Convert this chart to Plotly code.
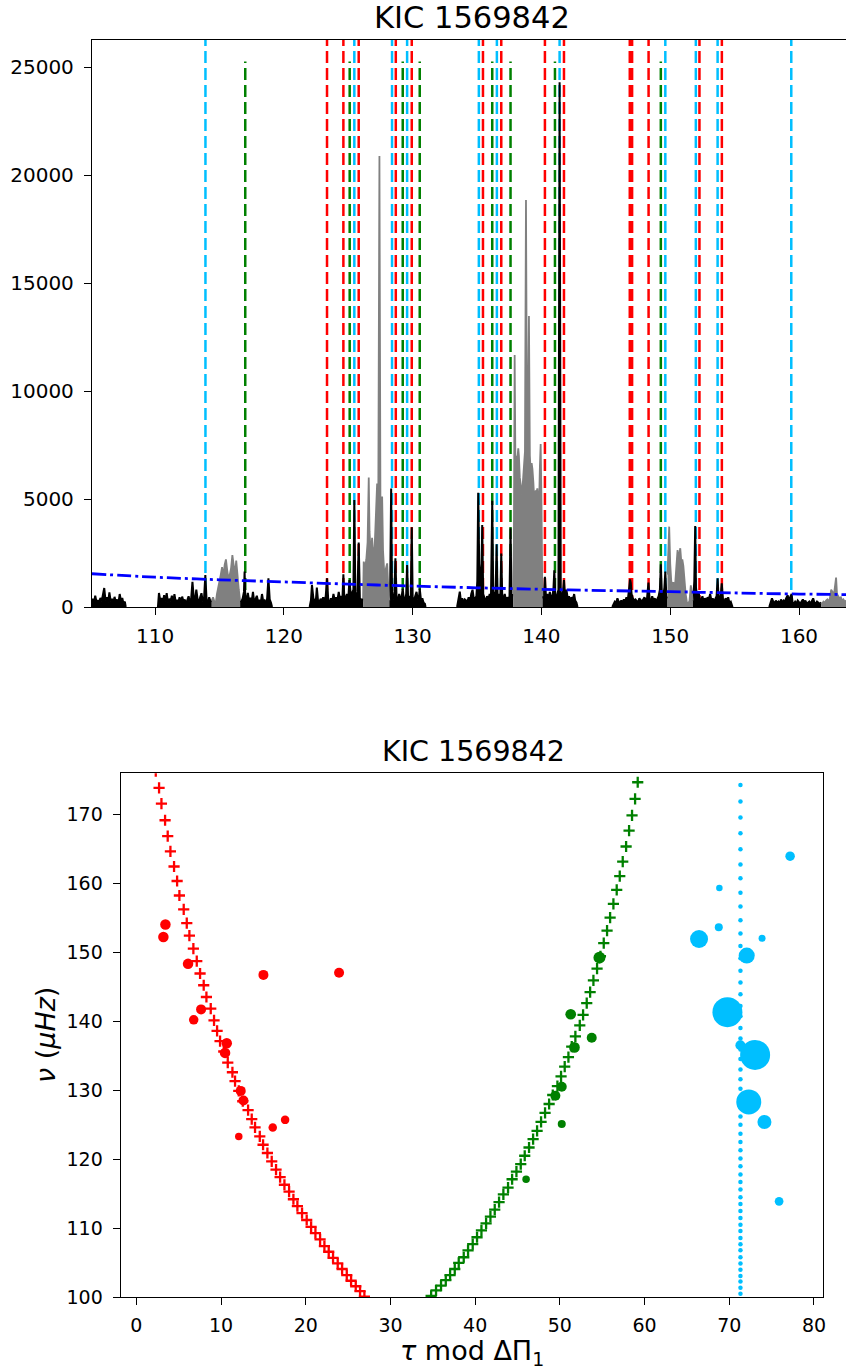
import plotly.graph_objects as go

W, H = 846, 1369

# ------------------------------------------------------------------
# Top panel: power spectrum (frequency in muHz, power)
# segments separated by None
# ------------------------------------------------------------------
black_freq = [
    105.10,105.15,105.25,105.35,105.45,105.55,105.65,105.75,105.85,105.95,106.05,106.15,106.25,106.35,106.45,106.55,106.65,106.75,106.85,106.95,107.05,107.15,107.25,107.35,107.45,107.55,107.65,107.72, None,
    110.22,110.3,110.4,110.5,110.6,110.7,110.8,110.9,111.0,111.1,111.2,111.3,111.4,111.5,111.6,111.7,111.8,111.9,112.0,112.1,112.2,112.3,112.4,112.5,112.6,112.7,112.8,112.9,113.0,113.1,113.2,113.3,113.4,113.5,113.6,113.7,113.8,113.9,114.0,114.1,114.2,114.3,114.4, None,
    116.6,116.7,116.8,116.9,116.95,117.0,117.1,117.2,117.3,117.4,117.5,117.6,117.7,117.8,117.9,118.0,118.1,118.2,118.3,118.4,118.5,118.6,118.7,118.8,118.9,119.0,119.08, None,
    122.0,122.1,122.18,122.3,122.4,122.5,122.56,122.65,122.75,122.85,122.95,123.05,123.15,123.25,123.35,123.45,123.55,123.65,123.75,123.85,123.95,124.05,124.15,124.26,124.35,124.45,124.55,124.62,124.7,124.8,124.9,125.0,125.09,125.2,125.3,125.4,125.47,125.55,125.65,125.72,125.81,125.9,126.0,126.1,126.15, None,
    128.18,128.25,128.33,128.4,128.5,128.58,128.66,128.75,128.85,128.95,129.05,129.15,129.23,129.3,129.4,129.5,129.57,129.65,129.75,129.85,129.93,130.0,130.1,130.2,130.3,130.4,130.5,130.55,130.65,130.75,130.85,130.95,131.0, None,
    133.45,133.55,133.66,133.75,133.85,133.95,134.05,134.15,134.25,134.35,134.45,134.55,134.65,134.75,134.85,134.95,135.02,135.09,135.17,135.25,135.33,135.4,135.48,135.58,135.68,135.78,135.88,135.98,136.08,136.18,136.26,136.34,136.43,136.52,136.6,136.7,136.8,136.88,136.96,137.05,137.15,137.25,137.35,137.45,137.52,137.6,137.68,137.8, None,
    140.07,140.15,140.22,140.27,140.35,140.45,140.55,140.65,140.75,140.85,140.93,141.0,141.08,141.16,141.24,141.32,141.41,141.5,141.58,141.66,141.75,141.84,141.94,142.04,142.14,142.24,142.34,142.44,142.54,142.62,142.72,142.8, None,
    145.5,145.6,145.7,145.8,145.9,146.0,146.1,146.2,146.3,146.4,146.5,146.6,146.7,146.8,146.88,146.94,147.0,147.1,147.2,147.3,147.4,147.5,147.6,147.7,147.8,147.9,148.0,148.1,148.2,148.31,148.4,148.5,148.6,148.7,148.8,148.9,149.0,149.1,149.2,149.27,149.35,149.45,149.55,149.62,149.7,149.79, None,
    151.73,151.8,151.87,151.94,152.0,152.1,152.2,152.3,152.4,152.5,152.6,152.7,152.8,152.9,153.0,153.1,153.2,153.3,153.4,153.5,153.6,153.68,153.76,153.85,153.93,154.0,154.1,154.2,154.3,154.4,154.5,154.6,154.7,154.84, None,
    157.69,157.8,157.9,158.0,158.1,158.2,158.3,158.4,158.5,158.6,158.7,158.8,158.9,159.0,159.12,159.2,159.3,159.43,159.5,159.6,159.7,159.8,159.9,160.0,160.1,160.2,160.3,160.4,160.5,160.6,160.7,160.8,160.9,161.0,161.1,161.2,161.3,161.4,161.5,161.6,161.72,
]
black_power = [
    200,380,150,520,230,320,180,420,260,560,880,300,450,200,680,260,380,190,470,230,350,170,600,280,420,150,250,0, None,
    0,650,300,420,180,550,250,640,200,380,260,520,170,600,240,330,200,450,160,480,260,350,140,300,500,250,380,1170,450,280,800,350,220,450,640,260,380,1480,300,200,450,250,300, None,
    300,250,400,700,1640,500,300,650,280,420,250,700,200,380,520,230,330,180,600,250,300,150,400,1330,350,200,0, None,
    0,300,1020,350,250,420,900,300,200,380,250,450,300,500,1330,280,200,400,250,600,300,450,280,700,350,500,400,1510,300,450,600,350,1250,500,700,800,4950,600,500,700,2980,400,350,250,400, None,
    300,600,5490,500,350,700,2250,400,300,600,350,500,850,400,300,600,1940,350,500,400,3690,450,300,550,700,350,500,850,300,400,200,150,0, None,
    0,300,710,250,400,200,350,300,250,450,200,600,800,350,400,500,1200,5290,2000,1500,900,3800,600,400,300,500,350,600,400,4920,500,700,400,2900,350,600,300,2480,350,400,600,300,450,350,500,3640,400,600, None,
    400,600,800,1400,500,600,350,700,400,500,800,1700,500,400,600,800,24290,700,500,600,1250,450,800,400,500,300,450,350,600,300,200,0, None,
    0,150,250,200,400,250,180,300,200,350,250,450,300,800,1280,1100,600,400,300,350,250,200,400,300,250,350,450,300,400,1130,350,250,500,300,400,250,350,500,800,1980,600,450,900,1640,500,400, None,
    300,500,1200,3750,900,400,700,350,300,500,250,400,300,450,350,600,300,400,250,350,500,1330,400,300,600,1100,350,250,400,300,450,200,250,0, None,
    0,200,400,250,150,300,200,250,150,350,200,300,250,400,550,300,450,600,200,150,250,150,300,200,150,250,350,200,300,150,200,250,150,300,400,200,150,250,200,150,200,
]

grey_freq = [
    114.4,114.5,114.6,114.7,114.8,114.9,115.0,115.1,115.2,115.3,115.4,115.5,115.6,115.7,115.8,115.9,116.0,116.1,116.2,116.3,116.4,116.5,116.6, None,
    126.15,126.2,126.3,126.4,126.5,126.59,126.65,126.75,126.85,126.95,127.05,127.15,127.24,127.32,127.42,127.5,127.57,127.63,127.7,127.8,127.9,128.02,128.1,128.18, None,
    137.8,137.86,137.92,137.98,138.05,138.12,138.2,138.25,138.32,138.4,138.48,138.56,138.64,138.72,138.8,138.87,138.94,139.03,139.1,139.17,139.24,139.3,139.37,139.44,139.5,139.56,139.62,139.68,139.75,139.82,139.88,139.94,140.0,140.07, None,
    149.79,149.85,149.92,150.0,150.08,150.16,150.24,150.32,150.4,150.48,150.57,150.64,150.71,150.78,150.86,150.94,151.02,151.1,151.2,151.3,151.4,151.5,151.6,151.68,151.73, None,
    161.72,161.8,161.9,162.0,162.1,162.2,162.3,162.4,162.5,162.6,162.7,162.8,162.88,162.95,163.05,163.15,163.25,163.35,163.45,163.55,163.65,
]
grey_power = [
    300,450,250,150,600,850,1100,1500,1850,1400,1950,2200,1700,1300,1500,1800,2400,2000,1500,2150,1300,800,300, None,
    400,2100,1800,2200,3000,5990,3500,2400,3200,2300,2800,4000,5720,3000,20880,4500,3800,5110,2600,1500,1800,2020,1000,300, None,
    600,3000,11670,6500,7000,6800,7350,7000,6000,5500,5200,5800,6500,7200,18840,9000,7500,13470,7000,6200,6660,6400,5800,5000,5200,5400,5300,5490,5000,4800,6500,7550,5000,500, None,
    1500,2500,3720,2000,1200,1000,1150,800,1200,1900,2640,2200,2400,2720,2100,2200,1900,1200,600,200,150,300,1000,700,300, None,
    200,150,250,200,300,350,250,400,800,700,500,900,1360,600,500,400,450,300,350,250,300,
]

# background level (dash-dot)
bg_freq = [105.1, 110.0, 115.0, 120.0, 125.0, 130.0, 135.0, 140.0, 145.0, 150.0, 155.0, 160.0, 163.65]
bg_power = [1540, 1380, 1260, 1160, 1060, 970, 890, 820, 760, 710, 650, 600, 575]

# mode frequency markers
red_lines = [123.35, 124.62, 125.81, 128.69, 129.93, 135.46, 136.88, 140.27, 141.75,
             146.86, 147.04, 148.32, 152.27, 154.01]
green_lines = [117.00, 125.11, 129.23, 130.55, 136.18, 137.60, 141.05, 149.27]
blue_lines = [113.91, 125.47, 128.40, 129.57, 135.14, 136.54, 141.41, 149.62, 151.99,
              153.68, 159.40]
line_top_red_blue = 27000
line_top_green = 25250

top_xticks = [110, 120, 130, 140, 150, 160]
top_yticks = [0, 5000, 10000, 15000, 20000, 25000]

# ------------------------------------------------------------------
# Bottom panel: echelle-like diagram (tau mod DeltaPi1, nu)
# ------------------------------------------------------------------
red_model_tau = [2.29,2.68,2.96,3.39,3.70,4.02,4.45,4.81,5.08,5.59,5.95,6.26,6.73,7.13,7.52,7.95,8.27,8.78,
                 9.17,9.53,9.88,10.32,10.79,11.34,11.65,12.09,12.56,13.19,13.62,14.01,14.57,14.96,15.47,15.98,
                 16.49,16.97,17.48,18.03,18.54,19.01,19.56,20.11,20.63,21.14,21.69,22.20,22.71,23.22,23.77,
                 24.29,24.84,25.35,25.90,26.41,26.92]
red_model_nu = [176.2,173.8,171.5,169.1,166.8,164.6,162.4,160.3,158.2,156.2,154.2,152.4,150.5,148.7,146.9,145.2,143.5,141.8,
                140.1,138.6,137.1,135.6,134.0,132.6,131.3,129.9,128.4,127.1,125.8,124.6,123.3,122.1,120.9,119.7,
                118.5,117.4,116.3,115.3,114.2,113.2,112.2,111.2,110.2,109.3,108.4,107.4,106.6,105.7,104.9,
                104.1,103.2,102.4,101.6,100.9,100.1]

green_model_tau = [59.19,58.88,58.52,58.17,57.82,57.42,57.07,56.71,56.32,55.93,55.57,55.18,54.79,54.39,53.96,53.57,
                   53.17,52.74,52.35,51.83,51.40,51.01,50.57,50.14,49.71,49.16,48.73,48.25,47.78,47.31,46.84,46.36,
                   45.85,45.38,44.87,44.36,43.88,43.33,42.82,42.31,41.80,41.29,40.74,40.22,39.71,39.16,38.65,38.06,
                   37.59,37.04,36.53,35.97,35.38,34.80]
green_model_nu = [174.6,172.2,169.8,167.6,165.3,163.1,161.0,159.0,157.0,155.0,153.1,151.3,149.4,147.6,145.9,144.2,
                  142.6,140.9,139.4,137.8,136.3,134.8,133.4,132.0,130.6,129.3,128.0,126.7,125.4,124.1,122.9,121.7,
                  120.5,119.3,118.2,117.1,115.9,114.9,113.8,112.7,111.7,110.7,109.7,108.7,107.7,106.8,105.8,105.0,
                  104.1,103.2,102.5,101.7,101.0,100.2]

blue_model_tau = 71.32
blue_model_nu = [174.2,171.8,169.5,167.2,164.9,162.7,160.7,158.6,156.6,154.6,152.7,150.9,149.1,147.3,145.6,143.9,
                 142.2,140.7,139.0,137.5,135.9,134.5,133.0,131.6,130.2,128.8,127.5,126.2,125.0,123.7,122.5,121.3,
                 120.1,119.0,117.8,116.7,115.6,114.5,113.5,112.5,111.5,110.5,109.6,108.6,107.7,106.8,105.8,104.9,
                 104.0,103.1,102.3,101.4,100.5]

red_obs_tau = [3.43, 3.19, 6.10, 15.00, 23.93, 7.64, 6.77, 10.67, 10.47, 12.32, 12.64, 12.09, 16.10, 17.56]
red_obs_nu = [154.0, 152.2, 148.3, 146.7, 147.0, 141.7, 140.2, 136.8, 135.4, 129.9, 128.5, 123.3, 124.6, 125.7]
red_obs_size = [10.5, 10.5, 10.5, 10, 10, 10, 9.5, 10.5, 10.5, 10, 10, 7.5, 8.5, 8.5]

green_obs_tau = [54.67, 51.28, 53.76, 51.72, 50.22, 49.47, 50.22, 46.01]
green_obs_nu = [149.2, 141.0, 137.6, 136.2, 130.5, 129.2, 125.1, 117.1]
green_obs_size = [12, 10.7, 10, 10.7, 10, 10, 8, 7.5]

blue_obs_tau = [77.18, 68.83, 68.76, 66.43, 73.87, 72.06, 69.78, 71.31, 73.05, 72.30, 74.15, 75.88]
blue_obs_nu = [163.9, 159.3, 153.6, 151.9, 152.0, 149.5, 141.3, 136.5, 135.1, 128.3, 125.4, 113.9]
blue_obs_size = [9.5, 6.5, 8, 18, 7, 16, 30, 10, 30, 25, 14, 8.7]

bot_xticks = [0, 10, 20, 30, 40, 50, 60, 70, 80]
bot_yticks = [100, 110, 120, 130, 140, 150, 160, 170]

title_text = "KIC 1569842"

RED = "#ff0000"
GREEN = "#008000"
SKY = "#00bfff"
FONT = "DejaVu Sans"


def px_x(p):
    return p / W


def px_y(p):
    return 1 - p / H


def split_segments(xs, ys):
    segs, cx, cy = [], [], []
    for x, y in zip(xs, ys):
        if x is None:
            if cx:
                segs.append((cx, cy))
            cx, cy = [], []
        else:
            cx.append(x)
            cy.append(y)
    if cx:
        segs.append((cx, cy))
    return segs


def vline_trace(positions, top, color):
    xs, ys = [], []
    for f in positions:
        xs += [f, f, None]
        ys += [0, top, None]
    return go.Scatter(x=xs, y=ys, mode="lines", xaxis="x", yaxis="y",
                      line=dict(color=color, width=2.5, dash="12px,5px"),
                      hoverinfo="skip", showlegend=False)


fig = go.Figure()

# vertical mode lines (drawn under spectrum)
fig.add_trace(vline_trace(blue_lines, line_top_red_blue, SKY))
fig.add_trace(vline_trace(green_lines, line_top_green, GREEN))
fig.add_trace(vline_trace(red_lines, line_top_red_blue, RED))

for sx, sy in split_segments(black_freq, black_power):
    fig.add_trace(go.Scatter(x=sx, y=sy, mode="lines", xaxis="x", yaxis="y",
                             line=dict(color="black", width=2.0), fill="tozeroy",
                             fillcolor="black", showlegend=False, hoverinfo="skip"))
for sx, sy in split_segments(grey_freq, grey_power):
    fig.add_trace(go.Scatter(x=sx, y=sy, mode="lines", xaxis="x", yaxis="y",
                             line=dict(color="#808080", width=1.8), fill="tozeroy",
                             fillcolor="#808080", showlegend=False, hoverinfo="skip"))

fig.add_trace(go.Scatter(x=bg_freq, y=bg_power, mode="lines", xaxis="x", yaxis="y",
                         line=dict(color="#0000ff", width=2.8, dash="14px,4px,3px,4px", shape="spline"),
                         showlegend=False, hoverinfo="skip"))

# bottom panel
fig.add_trace(go.Scatter(x=red_model_tau, y=red_model_nu, mode="markers", xaxis="x2", yaxis="y2",
                         marker=dict(symbol="cross-thin", size=8, color=RED, opacity=1,
                                     line=dict(color=RED, width=2.3)),
                         showlegend=False))
fig.add_trace(go.Scatter(x=red_obs_tau, y=red_obs_nu, mode="markers", xaxis="x2", yaxis="y2",
                         marker=dict(symbol="circle", size=red_obs_size, color=RED, opacity=1, line=dict(width=0)),
                         showlegend=False))
fig.add_trace(go.Scatter(x=green_model_tau, y=green_model_nu, mode="markers", xaxis="x2", yaxis="y2",
                         marker=dict(symbol="cross-thin", size=8, color=GREEN, opacity=1,
                                     line=dict(color=GREEN, width=2.3)),
                         showlegend=False))
fig.add_trace(go.Scatter(x=green_obs_tau, y=green_obs_nu, mode="markers", xaxis="x2", yaxis="y2",
                         marker=dict(symbol="circle", size=green_obs_size, color=GREEN, opacity=1, line=dict(width=0)),
                         showlegend=False))
fig.add_trace(go.Scatter(x=[blue_model_tau] * len(blue_model_nu), y=blue_model_nu, mode="markers",
                         xaxis="x2", yaxis="y2",
                         marker=dict(symbol="circle", size=4.5, color=SKY, opacity=1, line=dict(width=0)),
                         showlegend=False))
fig.add_trace(go.Scatter(x=blue_obs_tau, y=blue_obs_nu, mode="markers", xaxis="x2", yaxis="y2",
                         marker=dict(symbol="circle", size=blue_obs_size, color=SKY, opacity=1, line=dict(width=0)),
                         showlegend=False))

axis_common = dict(showgrid=False, zeroline=False, showline=True, linecolor="black", linewidth=1.3,
                   ticks="outside", ticklen=7, tickwidth=1.3, tickcolor="black", automargin=False,
                   tickfont=dict(family=FONT, size=20, color="black"))
bot_font = dict(family=FONT, size=19, color="black")

fig.update_layout(
    width=W, height=H,
    margin=dict(l=0, r=0, t=0, b=0, pad=0),
    paper_bgcolor="white", plot_bgcolor="white",
    showlegend=False,
    xaxis=dict(domain=[px_x(92), 1.0], range=[105.1, 163.65], tickmode="array",
               tickvals=top_xticks, ticktext=[str(v) for v in top_xticks], mirror=True,
               anchor="y", ticklabelstandoff=4, **axis_common),
    yaxis=dict(domain=[px_y(607), px_y(40)], range=[0, 26250], tickmode="array",
               tickvals=top_yticks, ticktext=[str(v) for v in top_yticks], mirror=False,
               anchor="x", ticklabelstandoff=6, **axis_common),
    xaxis2=dict(domain=[px_x(120.7), px_x(823.3)], range=[-1.85, 81.1], tickmode="array",
                tickvals=bot_xticks, ticktext=[str(v) for v in bot_xticks], mirror=True,
                anchor="y2", ticklabelstandoff=4, **{**axis_common, "tickfont": bot_font}),
    yaxis2=dict(domain=[px_y(1297.3), px_y(773.3)], range=[100, 175.9], tickmode="array",
                tickvals=bot_yticks, ticktext=[str(v) for v in bot_yticks], mirror=True,
                anchor="x2", ticklabelstandoff=6, **{**axis_common, "tickfont": bot_font}),
    annotations=[
        dict(text=title_text, x=px_x(472.5), y=px_y(17.5), xref="paper", yref="paper",
             xanchor="center", yanchor="middle", showarrow=False,
             font=dict(family=FONT, size=30.5, color="black")),
        dict(text=title_text, x=px_x(473), y=px_y(752), xref="paper", yref="paper",
             xanchor="center", yanchor="middle", showarrow=False,
             font=dict(family=FONT, size=28.5, color="black")),
        dict(text="<i>τ</i> mod ΔΠ<sub>1</sub>", x=px_x(472), y=px_y(1352), xref="paper", yref="paper",
             xanchor="center", yanchor="middle", showarrow=False,
             font=dict(family=FONT, size=27, color="black")),
        dict(text="<i>ν</i> (<i>μHz</i>)", x=px_x(45), y=px_y(1035), xref="paper", yref="paper",
             xanchor="center", yanchor="middle", showarrow=False, textangle=-90,
             font=dict(family=FONT, size=27, color="black")),
    ],
)

fig.write_html("out.html", config={"displayModeBar": False},
               post_script="document.documentElement.style.margin='0';document.body.style.margin='0';"
                           "document.body.style.overflow='hidden';")
